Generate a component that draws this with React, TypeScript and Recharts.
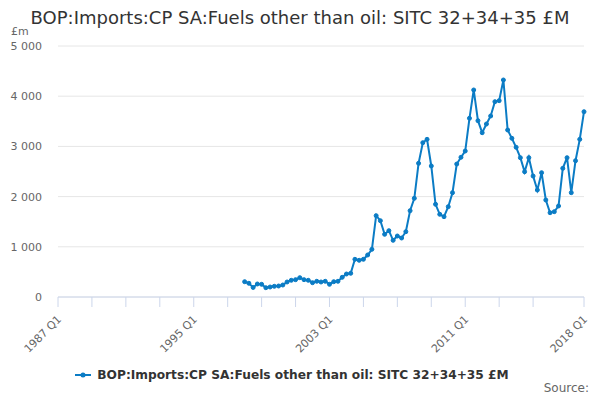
import { LineChart, Line, XAxis, YAxis, CartesianGrid, Legend } from 'recharts'

// quarter labels 1987 Q1 .. 2018 Q1
const years = Array.from({ length: 32 }, (_, i) => 1987 + i)
const quarters = years.flatMap((y) => [1, 2, 3, 4].map((q) => `${y} Q${q}`)).slice(0, 125)

// series starts at 1998 Q1
const firstQuarter = '1998 Q1'
const fuels = [
  305, 273, 190, 259, 253, 185, 199, 213, 219, 239, 299, 333, 345, 385, 345, 333,
  285, 313, 299, 313, 253, 305, 313, 392, 458, 472, 751, 731, 751, 837, 950, 1620,
  1520, 1249, 1321, 1129, 1215, 1175, 1301, 1719, 1966, 2663, 3074, 3141, 2610, 1847, 1647, 1600,
  1799, 2078, 2649, 2783, 2908, 3560, 4124, 3512, 3273, 3446, 3606, 3891, 3911, 4323, 3327, 3161,
  2982, 2775, 2496, 2775, 2410, 2131, 2476, 1932, 1679, 1700, 1813, 2563, 2775, 2078, 2715, 3141,
  3691,
]

const tickQuarters = [0, 8, 16, 24, 32, 40, 48, 56, 64, 72, 80, 88, 96, 104, 112, 124]
const labelledQuarters = ['1987 Q1', '1995 Q1', '2003 Q1', '2011 Q1', '2018 Q1']
const yTicks = [0, 1000, 2000, 3000, 4000, 5000]

const seriesName = 'BOP:Imports:CP SA:Fuels other than oil: SITC 32+34+35 £M'
const color = '#0b7cc5'
const font = 'DejaVu Sans'

const start = quarters.indexOf(firstQuarter)
const data = fuels.map((v, i) => ({ idx: start + i, quarter: quarters[start + i], value: v }))

const fmt = (v: number) => (v >= 1000 ? `${Math.floor(v / 1000)} ${String(v % 1000).padStart(3, '0')}` : String(v))

const XTick = (props: any) => {
  const { x, y, payload } = props
  const label = quarters[payload.value]
  if (!labelledQuarters.includes(label)) return null
  return (
    <text transform={`translate(${x + 4},${y + 11}) rotate(-45)`} textAnchor="end" fontSize={11} fill="#666" fontFamily={font}>
      {label}
    </text>
  )
}

const LegendContent = () => (
  <div style={{ display: 'flex', justifyContent: 'center', alignItems: 'center', fontFamily: font, fontSize: 12.2, fontWeight: 'bold', color: '#333' }}>
    <svg width={18} height={10} style={{ marginRight: 4 }}>
      <line x1={0} y1={5} x2={16} y2={5} stroke={color} strokeWidth={2} />
      <circle cx={8} cy={5} r={2.5} fill={color} />
    </svg>
    {seriesName}
  </div>
)

export default function App() {
  return (
    <div style={{ position: 'absolute', left: 0, top: 0, width: 600, height: 400, background: '#fff', fontFamily: font }}>
      <div style={{ position: 'absolute', top: 7, width: 600, textAlign: 'center', fontSize: 18, color: '#333' }}>{seriesName}</div>
      <div style={{ position: 'absolute', left: 11, top: 25, fontSize: 11, color: '#666' }}>£m</div>
      <div style={{ position: 'absolute', right: 11, top: 381, fontSize: 12, color: '#666' }}>Source:</div>
      <LineChart width={600} height={400} data={data} margin={{ top: 46, right: 16, left: 0, bottom: 8 }}>
        <CartesianGrid vertical={false} stroke="#e6e6e6" />
        <XAxis
          dataKey="idx"
          type="number"
          domain={[0, 124]}
          ticks={tickQuarters}
          interval={0}
          tick={<XTick />}
          tickSize={10}
          stroke="#ccd6eb"
          height={71}
        />
        <YAxis
          domain={[0, 5000]}
          ticks={yTicks}
          tickFormatter={fmt}
          axisLine={false}
          tickLine={false}
          tickSize={0}
          tickMargin={16}
          width={58}
          tick={{ fontSize: 11, fill: '#666', fontFamily: font }}
        />
        <Legend verticalAlign="bottom" height={24} content={<LegendContent />} />
        <Line
          type="linear"
          dataKey="value"
          name={seriesName}
          stroke={color}
          strokeWidth={2}
          dot={{ r: 2, fill: color, stroke: color, strokeWidth: 1 }}
          isAnimationActive={false}
        />
      </LineChart>
    </div>
  )
}
